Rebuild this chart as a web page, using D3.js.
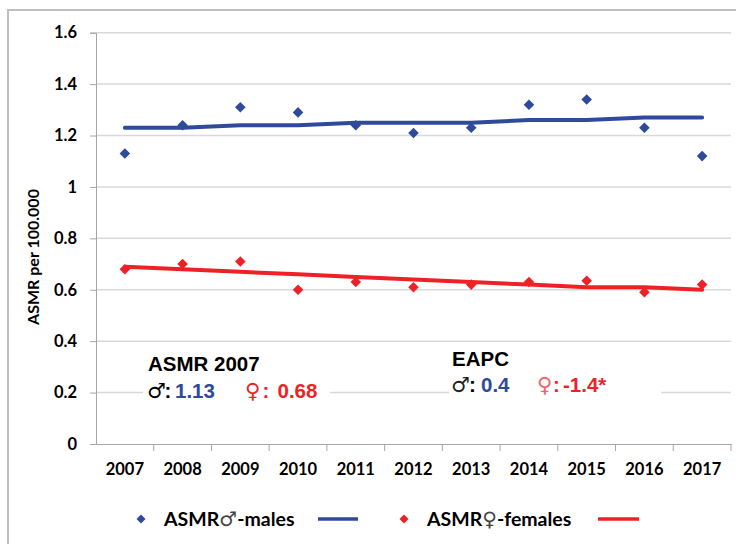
<!DOCTYPE html>
<html><head><meta charset="utf-8">
<script src="https://cdn.jsdelivr.net/npm/d3@7"></script>
<style>body{margin:0;background:#fff}svg{display:block}</style>
</head><body>
<svg id="chart" width="736" height="544"></svg>
<script>
const years = ["2007","2008","2009","2010","2011","2012","2013","2014","2015","2016","2017"];
const malesASMR = [1.13,1.24,1.31,1.29,1.24,1.21,1.23,1.32,1.34,1.23,1.12];
const malesTrend = [1.23,1.23,1.24,1.24,1.25,1.25,1.25,1.26,1.26,1.27,1.27];
const femalesASMR = [0.68,0.70,0.71,0.60,0.63,0.61,0.62,0.63,0.635,0.59,0.62];
const femalesTrend = [0.69,0.68,0.67,0.66,0.65,0.64,0.63,0.62,0.61,0.61,0.60];
const yTicks = [0,0.2,0.4,0.6,0.8,1,1.2,1.4,1.6];
const asmr2007 = {male:"1.13", female:"0.68"};
const eapc = {male:"0.4", female:"-1.4*"};

const BLUE = "#2f4a9b", RED = "#ee2226", PINK = "#f26468";
const svg = d3.select("#chart");
const tickFont = "Lato, 'Open Sans', sans-serif";
const annFont = "'Liberation Sans', Arial, sans-serif";
const symFont = "'DejaVu Sans', sans-serif";

// outer frame
svg.append("rect").attr("x",8).attr("y",10).attr("width",760).attr("height",560)
  .attr("fill","none").attr("stroke","#bfbfbf").attr("stroke-width",2);

const x = d3.scaleBand().domain(years).range([96,731]).padding(0);
const cx = d => x(d) + x.bandwidth()/2;
const y = d3.scaleLinear().domain([0,1.6]).range([444,32.7]);

// gridlines
svg.append("g").selectAll("line").data(yTicks.filter(t=>t>0)).join("line")
  .attr("x1",96).attr("x2",731).attr("y1",d=>y(d)).attr("y2",d=>y(d))
  .attr("stroke","#d9d9d9").attr("stroke-width",1.5);

// Y axis
const yAxis = svg.append("g").attr("transform","translate(96,0)")
  .call(d3.axisLeft(y).tickValues(yTicks).tickSize(6).tickPadding(13)
    .tickFormat(d => (d===0||d===1) ? String(d) : d.toFixed(1)));
yAxis.select(".domain").attr("stroke","#a6a6a6");
yAxis.selectAll(".tick line").attr("stroke","#a6a6a6");
yAxis.selectAll("text").attr("font-family",tickFont).attr("font-weight","bold")
  .attr("font-size",16.5).attr("fill","#000");

// X axis: labels centered in bands, ticks at band boundaries
const xAxis = svg.append("g").attr("transform","translate(0,444)")
  .call(d3.axisBottom(x).tickSize(0).tickPadding(19).tickSizeOuter(0));
xAxis.select(".domain").attr("stroke","#a6a6a6");
xAxis.selectAll("text").attr("font-family",tickFont).attr("font-weight","bold")
  .attr("font-size",16.5).attr("fill","#000");
svg.append("g").selectAll("line").data(years.slice(1).concat(["end"])).join("line")
  .attr("x1",d=> d==="end" ? 731 : x(d)).attr("x2",d=> d==="end" ? 731 : x(d))
  .attr("y1",444).attr("y2",451).attr("stroke","#a6a6a6");

// annotation boxes (white backgrounds covering gridlines)
svg.append("rect").attr("x",143).attr("y",348).attr("width",187).attr("height",58).attr("fill","#fff");
svg.append("rect").attr("x",449).attr("y",345).attr("width",212).attr("height",55).attr("fill","#fff");

// trend lines
const line = d3.line().x((d,i)=>cx(years[i])).y(d=>y(d));
svg.append("path").datum(malesTrend).attr("d",line).attr("fill","none")
  .attr("stroke",BLUE).attr("stroke-width",4).attr("stroke-linecap","round");
svg.append("path").datum(femalesTrend).attr("d",line).attr("fill","none")
  .attr("stroke",RED).attr("stroke-width",4).attr("stroke-linecap","round");

// diamonds
const diamond = d3.symbol().type(d3.symbolSquare).size(56);
function pts(vals, color){
  svg.append("g").selectAll("path").data(vals).join("path")
    .attr("d",diamond())
    .attr("transform",(d,i)=>`translate(${cx(years[i])},${y(d)}) rotate(45)`)
    .attr("fill",color);
}
pts(malesASMR, BLUE);
pts(femalesASMR, RED);

// annotations
function t(xp, yp, str, color, sym){
  const e = svg.append("text").attr("x",xp).attr("y",yp).text(str).attr("fill",color||"#000");
  if(sym) e.attr("font-family",symFont).attr("font-size",21);
  else e.attr("font-family",annFont).attr("font-weight","bold").attr("font-size",20.5);
  return e;
}
t(148,371,"ASMR 2007");
t(147,398,"♂","#000",true);
t(164.5,398,":");
t(175,398,asmr2007.male,BLUE);
t(245,398,"♀",RED,true);
t(262.5,398,":",RED);
t(277.5,398,asmr2007.female,RED);

t(452,366,"EAPC");
t(451,392,"♂","#222",true);
t(469,392,":");
t(481,392,eapc.male,BLUE);
t(537,392,"♀",PINK,true);
t(553,392,":",RED);
t(563,392,eapc.female,RED);

// axis title
svg.append("text").attr("transform","translate(39,257) rotate(-90)")
  .attr("text-anchor","middle").attr("font-family",tickFont).attr("font-weight","bold")
  .attr("font-size",16).text("ASMR per 100.000");

// legend
const ly = 519;
function legendItem(xd, xt, xl1, xl2, color, parts){
  svg.append("path").attr("d",d3.symbol().type(d3.symbolSquare).size(40)())
    .attr("transform",`translate(${xd},${ly}) rotate(45)`).attr("fill",color);
  const tx = svg.append("text").attr("x",xt).attr("y",ly+6.5).attr("font-family",tickFont)
    .attr("font-weight","bold").attr("font-size",19.5).attr("fill","#000");
  parts.forEach(p=>{
    const s=tx.append("tspan").text(p.t);
    if(p.sym) s.attr("font-family",symFont).attr("font-weight","normal").attr("fill","#444").attr("font-size",20);
  });
  svg.append("line").attr("x1",xl1).attr("x2",xl2).attr("y1",ly).attr("y2",ly)
    .attr("stroke",color).attr("stroke-width",3.5);
}
legendItem(141,164,318,358,BLUE,[{t:"ASMR"},{t:"♂",sym:true},{t:"-males"}]);
legendItem(404,427,598,639,RED,[{t:"ASMR"},{t:"♀",sym:true},{t:"-females"}]);
</script>
</body></html>
